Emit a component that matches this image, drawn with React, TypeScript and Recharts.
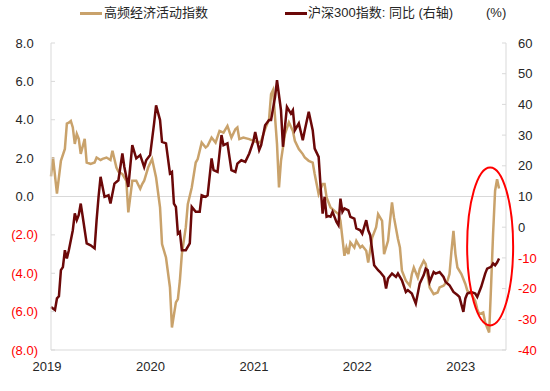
import { LineChart, Line, XAxis, YAxis, ReferenceLine, ReferenceDot } from "recharts"

// 周数 (自2019年1月起) 及对应读数
const goldWeeks = [0, 1, 3, 5, 7, 8, 9, 10, 11, 12, 13, 14, 15, 17, 18, 20, 22, 23, 25, 26, 28, 30, 31, 33, 34, 36, 38, 39, 41, 43, 45, 46, 47, 49, 51, 53, 55, 56, 58, 60, 61, 63, 64, 65, 66, 68, 69, 71, 73, 74, 76, 78, 79, 81, 83, 85, 87, 89, 91, 93, 94, 95, 97, 100, 102, 105, 106, 108, 110, 111, 112, 114, 115, 116, 118, 120, 122, 123, 125, 127, 128, 130, 132, 133, 135, 137, 138, 139, 141, 143, 145, 146, 148, 149, 150, 151, 153, 154, 156, 157, 159, 160, 162, 164, 165, 167, 168, 170, 171, 172, 173, 175, 176, 177, 179, 181, 182, 183, 185, 186, 188, 189, 191, 193, 195, 196, 198, 200, 201, 202, 203, 204, 205, 207, 209, 210, 212, 214, 215, 216, 218, 219, 221, 222, 223, 224, 225, 226]
const goldValues = [1.05, 2.05, 0.15, 1.86, 2.48, 3.8, 3.85, 3.94, 3.6, 2.74, 3.26, 3.0, 2.22, 3.0, 1.77, 1.7, 1.77, 2.03, 1.9, 1.96, 2.03, 1.9, 2.38, 1.51, 1.3, 1.17, 0.82, -0.83, 0.82, 0.82, 0.4, 0.65, 0.82, 1.51, 1.95, 0.99, -0.57, -2.48, -3.18, -4.74, -6.83, -5.52, -5.35, -4.39, -3.0, -1.6, -0.4, 0.47, 1.77, 1.95, 2.81, 2.55, 2.64, 3.07, 2.81, 3.42, 3.33, 3.68, 3.07, 3.51, 3.6, 2.99, 3.07, 2.99, 2.9, 2.81, 2.9, 3.51, 4.03, 5.34, 5.55, 2.73, 0.47, 1.86, 3.25, 3.86, 3.42, 2.9, 2.47, 2.21, 2.03, 1.86, 1.77, 1.17, 0.13, 0.65, 0.65, -0.05, -0.57, -0.75, -0.92, -1.27, -3.09, -2.66, -3.0, -2.4, -2.66, -2.31, -2.66, -2.57, -2.83, -3.44, -2.14, -1.6, -0.92, -1.27, -3.0, -2.31, -1.27, -0.31, -1.09, -2.22, -2.66, -3.87, -4.39, -4.65, -4.05, -3.7, -4.22, -3.78, -3.35, -3.52, -4.74, -5.09, -5.0, -4.74, -4.65, -4.39, -4.04, -2.83, -1.79, -3.0, -3.7, -4.04, -4.56, -4.91, -5.09, -5.44, -5.87, -6.13, -6.04, -6.57, -7.09, -4.6, -1.9, 0.3, 0.9, 0.42]

const hsWeeks = [0, 2, 3, 4, 5, 6, 7, 8, 9, 11, 12, 13, 14, 15, 16, 18, 20, 22, 23, 24, 25, 27, 29, 30, 32, 34, 36, 37, 39, 40, 41, 43, 45, 47, 48, 50, 52, 53, 55, 56, 58, 60, 61, 62, 63, 64, 65, 66, 68, 70, 71, 73, 75, 76, 78, 79, 81, 82, 84, 86, 87, 89, 90, 91, 93, 94, 96, 98, 100, 102, 103, 105, 106, 108, 110, 111, 113, 114, 116, 117, 119, 121, 122, 123, 125, 127, 128, 130, 132, 133, 135, 136, 137, 138, 139, 140, 141, 142, 144, 145, 146, 147, 148, 150, 151, 153, 154, 156, 157, 159, 160, 161, 163, 165, 166, 168, 169, 170, 172, 174, 175, 177, 179, 180, 182, 184, 186, 188, 189, 190, 191, 193, 194, 196, 198, 199, 201, 203, 205, 206, 208, 209, 210, 212, 214, 215, 217, 219, 220, 222, 223, 224, 225, 226]
const hsValues = [-26, -27, -23.2, -22.5, -14, -13, -7.5, -10.2, -7.5, -1, 4.5, 2.3, 4, 7.7, 3.4, -5.3, -5.9, -6.9, 2.3, 10, 16.4, 9.9, 10.4, 7.7, 14.2, 15.3, 24, 19.6, 13.1, 20, 26.7, 22.4, 23.5, 19.6, 21.8, 23.5, 33.8, 39.7, 34.9, 27.8, 27.3, 17.5, 18, 7.7, 6.6, -2.1, -1.5, -7.5, -7.5, -5.3, 6.6, 5, 5, 10.4, 9.9, 10.4, 22.4, 18.6, 18, 30, 26.7, 27.3, 22.9, 18.6, 18, 20.7, 21.8, 21.3, 24, 27.8, 31, 25.1, 26.7, 33.2, 34.9, 34.9, 42.4, 47.9, 38.1, 26.2, 39.2, 37, 38.1, 31.6, 33.8, 28.3, 31.6, 37.6, 31.6, 25.6, 22.9, 13.1, 4.4, 9.9, 3.4, 3.6, 3.4, 5, 1.7, 0.65, 9.3, 5, 6.1, 5.5, 3.4, 2.8, -0.4, -1, -2.1, 2.3, -1, -2.6, -12.4, -14, -14.6, -16.2, -20, -16.7, -15.1, -16.2, -15.1, -17.3, -21.1, -20.5, -21.6, -24.9, -18.3, -15.6, -13.5, -14, -17.8, -14.6, -15.1, -14.6, -16.2, -17.8, -18.9, -21.1, -22.1, -22.7, -27.6, -23.2, -21.6, -21.1, -21.6, -22.7, -19.4, -15.1, -13.5, -12.9, -11.8, -12.4, -11.5, -10.2]

const yearTicks = [0, 52.2, 104.4, 156.5, 208.7]
const yearLabels = ["2019", "2020", "2021", "2022", "2023"]
const leftTicks = [-8, -6, -4, -2, 0, 2, 4, 6, 8]
const rightTicks = [-40, -30, -20, -10, 0, 10, 20, 30, 40, 50, 60]

const GOLD = "#c9a26b"
const MAROON = "#6b0808"
const RED = "#ff0000"
const TEXT = "#262626"
const AXIS = "#d9d9d9"
const FONT = "'Liberation Sans', Arial, 'Noto Sans CJK SC', sans-serif"

const goldData = goldWeeks.map((w, i) => ({ w, v: goldValues[i] }))
const hsData = hsWeeks.map((w, i) => ({ w, v: hsValues[i] }))

const LeftTick = ({ x, y, payload }: any) => {
  const v = payload.value
  const neg = v < 0
  return (
    <g>
      <line x1={x + 13} x2={x + 17} y1={y} y2={y} stroke={AXIS} />
      <text x={neg ? x : x - 4.3} y={y} dy={4.6} textAnchor="end" fontSize={13} fontFamily={FONT} fill={neg ? RED : TEXT}>
        {neg ? `(${Math.abs(v).toFixed(1)})` : v.toFixed(1)}
      </text>
    </g>
  )
}

const RightTick = ({ x, y, payload }: any) => {
  const v = payload.value
  return (
    <g>
      <line x1={x - 12} x2={x - 16} y1={y} y2={y} stroke={AXIS} />
      <text x={x} y={y} dy={4.6} textAnchor="start" fontSize={13} fontFamily={FONT} fill={v < 0 ? RED : TEXT}>
        {v}
      </text>
    </g>
  )
}

const YearTick = ({ x, y, payload, index }: any) => (
  <text x={x - 4} y={y + 12.6} textAnchor="middle" fontSize={13} fontFamily={FONT} fill={TEXT}>
    {yearLabels[index] ?? payload.value}
  </text>
)

const legendText = { position: "absolute" as const, top: 4, fontSize: 13, lineHeight: "18px", color: TEXT, fontFamily: FONT, whiteSpace: "nowrap" as const }

export default function App() {
  return (
    <div style={{ position: "absolute", left: 0, top: 0, width: 550, height: 391, background: "#fff" }}>
      <LineChart width={550} height={391} margin={{ top: 43, right: 0, bottom: 11, left: 0 }}>
        <XAxis
          type="number"
          dataKey="w"
          domain={[0, 229.5]}
          ticks={yearTicks}
          tick={<YearTick />}
          tickLine={false}
          axisLine={{ stroke: AXIS }}
          height={30}
          interval={0}
        />
        <YAxis
          yAxisId="left"
          orientation="left"
          domain={[-8, 8]}
          ticks={leftTicks}
          width={51}
          tickSize={6}
          tickMargin={7}
          tickLine={false}
          axisLine={{ stroke: AXIS }}
          tick={<LeftTick />}
          interval={0}
        />
        <YAxis
          yAxisId="right"
          orientation="right"
          domain={[-40, 60]}
          ticks={rightTicks}
          width={44}
          tickSize={6}
          tickMargin={6}
          tickLine={false}
          axisLine={{ stroke: AXIS }}
          tick={<RightTick />}
          interval={0}
        />
        <ReferenceLine yAxisId="left" y={0} stroke={AXIS} />
        <Line
          yAxisId="left"
          data={goldData}
          dataKey="v"
          type="linear"
          stroke={GOLD}
          strokeWidth={2.5}
          dot={false}
          isAnimationActive={false}
        />
        <Line
          yAxisId="right"
          data={hsData}
          dataKey="v"
          type="linear"
          stroke={MAROON}
          strokeWidth={2.5}
          dot={false}
          isAnimationActive={false}
        />
        <ReferenceDot
          yAxisId="left"
          x={221.5}
          y={-2.6}
          r={1}
          shape={(p: any) => <ellipse cx={p.cx} cy={p.cy} rx={23} ry={79} fill="none" stroke={RED} strokeWidth={2} />}
        />
      </LineChart>
      <div style={{ position: "absolute", left: 80, top: 12, width: 22, height: 3, background: GOLD }} />
      <span style={{ ...legendText, left: 104 }}>高频经济活动指数</span>
      <div style={{ position: "absolute", left: 285, top: 12, width: 22, height: 3, background: MAROON }} />
      <span style={{ ...legendText, left: 308 }}>沪深300指数: 同比 (右轴)</span>
      <span style={{ ...legendText, left: 486 }}>(%)</span>
    </div>
  )
}
